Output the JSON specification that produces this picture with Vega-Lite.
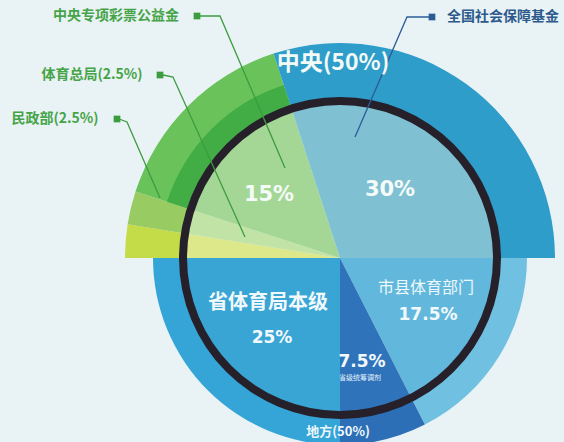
{
  "$schema": "https://vega.github.io/schema/vega-lite/v6.json",
  "width": 564,
  "height": 442,
  "autosize": {"type": "none"},
  "padding": 0,
  "background": "#e9f2f5",
  "config": {"view": {"stroke": null}},
  "datasets": {
    "seg": [
      {"i": 1, "name": "民政部", "v": 2.5, "half": "中央"},
      {"i": 2, "name": "体育总局", "v": 2.5, "half": "中央"},
      {"i": 3, "name": "中央专项彩票公益金", "v": 15, "half": "中央"},
      {"i": 4, "name": "全国社会保障基金", "v": 30, "half": "中央"},
      {"i": 5, "name": "市县体育部门", "v": 17.5, "half": "地方"},
      {"i": 6, "name": "省级调剂", "v": 7.5, "half": "地方"},
      {"i": 7, "name": "省体育局本级", "v": 25, "half": "地方"}
    ],
    "lines": [
      {"id": "g1", "c": "green", "s": 0, "x": -140, "y": 242},
      {"id": "g1", "c": "green", "s": 1, "x": -120, "y": 242},
      {"id": "g1", "c": "green", "s": 2, "x": -55, "y": 90},
      {"id": "g2", "c": "green", "s": 0, "x": -177, "y": 183},
      {"id": "g2", "c": "green", "s": 1, "x": -167, "y": 181},
      {"id": "g2", "c": "green", "s": 2, "x": -95, "y": 21},
      {"id": "g3", "c": "green", "s": 0, "x": -221, "y": 139},
      {"id": "g3", "c": "green", "s": 1, "x": -213, "y": 136},
      {"id": "g3", "c": "green", "s": 2, "x": -180, "y": 60},
      {"id": "b1", "c": "blue", "s": 0, "x": 90, "y": 241},
      {"id": "b1", "c": "blue", "s": 1, "x": 67, "y": 241},
      {"id": "b1", "c": "blue", "s": 2, "x": 15, "y": 121}
    ],
    "squares": [
      {"c": "green", "x": -143, "y": 242},
      {"c": "green", "x": -180, "y": 183},
      {"c": "green", "x": -223, "y": 139},
      {"c": "blue", "x": 92, "y": 241}
    ],
    "labels": [
      {"kind": "callg", "t": "中央专项彩票公益金", "x": -224, "y": 242},
      {"kind": "callg", "t": "体育总局(2.5%)", "x": -248, "y": 183},
      {"kind": "callg", "t": "民政部(2.5%)", "x": -285, "y": 139},
      {"kind": "callb", "t": "全国社会保障基金", "x": 163, "y": 241},
      {"kind": "big", "t": "中央(50%)", "x": -7, "y": 195},
      {"kind": "pct", "t": "15%", "x": -71, "y": 63},
      {"kind": "pct", "t": "30%", "x": 50, "y": 68},
      {"kind": "name", "t": "省体育局本级", "x": -72, "y": -45},
      {"kind": "pct2", "t": "25%", "x": -68, "y": -80},
      {"kind": "name2", "t": "市县体育部门", "x": 86, "y": -30},
      {"kind": "pct2", "t": "17.5%", "x": 88, "y": -57},
      {"kind": "pct2", "t": "7.5%", "x": 22, "y": -104},
      {"kind": "tiny", "t": "省级统筹调剂", "x": 20, "y": -120},
      {"kind": "foot", "t": "地方(50%)", "x": -2, "y": -174}
    ]
  },
  "layer": [
    {
      "data": {"name": "seg"},
      "transform": [
        {"stack": "v", "groupby": [], "sort": [{"field": "i", "order": "ascending"}], "as": ["t0", "t1"]},
        {"filter": "datum.half == '中央'"}
      ],
      "mark": {"type": "arc", "radius": 215, "radius2": 157},
      "encoding": {
        "x": {"datum": 0, "type": "quantitative", "scale": {"domain": [-340, 224], "nice": false, "zero": false}, "axis": null},
        "y": {"datum": 0, "type": "quantitative", "scale": {"domain": [-184, 258], "nice": false, "zero": false}, "axis": null},
        "theta": {"field": "t0", "type": "quantitative", "scale": {"domain": [0, 100], "range": [4.712389, 10.995574]}},
        "theta2": {"field": "t1"},
        "color": {"field": "name", "type": "nominal", "legend": null,
          "scale": {"domain": ["民政部", "体育总局", "中央专项彩票公益金", "全国社会保障基金"], "range": ["#c3dc48", "#98cc62", "#6ac25a", "#2e9dca"]}}
      }
    },
    {
      "data": {"name": "seg"},
      "transform": [
        {"stack": "v", "groupby": [], "sort": [{"field": "i", "order": "ascending"}], "as": ["t0", "t1"]},
        {"filter": "datum.half == '地方'"}
      ],
      "mark": {"type": "arc", "radius": 187, "radius2": 157},
      "encoding": {
        "x": {"datum": 0, "type": "quantitative"},
        "y": {"datum": 0, "type": "quantitative"},
        "theta": {"field": "t0", "type": "quantitative"},
        "theta2": {"field": "t1"},
        "color": {"field": "name", "type": "nominal", "legend": null,
          "scale": {"domain": ["市县体育部门", "省级调剂", "省体育局本级"], "range": ["#70c0e2", "#2c6fb6", "#35a4d6"]}}
      }
    },
    {
      "data": {"name": "seg"},
      "transform": [
        {"stack": "v", "groupby": [], "sort": [{"field": "i", "order": "ascending"}], "as": ["t0", "t1"]},
        {"filter": "datum.i == 3"}
      ],
      "mark": {"type": "arc", "radius": 182, "radius2": 157, "color": "#42ad45"},
      "encoding": {
        "x": {"datum": 0, "type": "quantitative"},
        "y": {"datum": 0, "type": "quantitative"},
        "theta": {"field": "t0", "type": "quantitative"},
        "theta2": {"field": "t1"}
      }
    },
    {
      "data": {"name": "seg"},
      "transform": [
        {"stack": "v", "groupby": [], "sort": [{"field": "i", "order": "ascending"}], "as": ["t0", "t1"]}
      ],
      "mark": {"type": "arc", "radius": 157, "radius2": 0},
      "encoding": {
        "x": {"datum": 0, "type": "quantitative"},
        "y": {"datum": 0, "type": "quantitative"},
        "theta": {"field": "t0", "type": "quantitative"},
        "theta2": {"field": "t1"},
        "color": {"field": "name", "type": "nominal", "legend": null,
          "scale": {"domain": ["民政部", "体育总局", "中央专项彩票公益金", "全国社会保障基金", "市县体育部门", "省级调剂", "省体育局本级"],
                    "range": ["#dde88a", "#c2e3a6", "#a4d795", "#7fc1d3", "#62b8dc", "#2f74bb", "#39a5d5"]}}
      }
    },
    {
      "data": {"values": [{"r": 1}]},
      "mark": {"type": "arc", "radius": 161, "radius2": 153, "theta": 0, "theta2": 6.2832, "color": "#26202a"},
      "encoding": {
        "x": {"datum": 0, "type": "quantitative"},
        "y": {"datum": 0, "type": "quantitative"}
      }
    },
    {
      "data": {"name": "lines"},
      "mark": {"type": "line", "strokeWidth": 1.3},
      "encoding": {
        "x": {"field": "x", "type": "quantitative"},
        "y": {"field": "y", "type": "quantitative"},
        "detail": {"field": "id"},
        "order": {"field": "s"},
        "color": {"field": "c", "type": "nominal", "legend": null,
          "scale": {"domain": ["green", "blue"], "range": ["#3c9c40", "#2c5c96"]}}
      }
    },
    {
      "data": {"name": "squares"},
      "mark": {"type": "square", "size": 45, "filled": true, "opacity": 1},
      "encoding": {
        "x": {"field": "x", "type": "quantitative"},
        "y": {"field": "y", "type": "quantitative"},
        "color": {"field": "c", "type": "nominal", "legend": null,
          "scale": {"domain": ["green", "blue"], "range": ["#3c9c40", "#2c5c96"]}}
      }
    },
    {
      "data": {"name": "labels"},
      "transform": [{"filter": "datum.kind == 'callg'"}],
      "mark": {"type": "text", "font": "Noto Sans CJK SC", "fontWeight": "bold", "fontSize": 14, "color": "#45a447"},
      "encoding": {"x": {"field": "x", "type": "quantitative"}, "y": {"field": "y", "type": "quantitative"}, "text": {"field": "t"}}
    },
    {
      "data": {"name": "labels"},
      "transform": [{"filter": "datum.kind == 'callb'"}],
      "mark": {"type": "text", "font": "Noto Sans CJK SC", "fontWeight": "bold", "fontSize": 14, "color": "#2c5a8c"},
      "encoding": {"x": {"field": "x", "type": "quantitative"}, "y": {"field": "y", "type": "quantitative"}, "text": {"field": "t"}}
    },
    {
      "data": {"name": "labels"},
      "transform": [{"filter": "datum.kind == 'big'"}],
      "mark": {"type": "text", "font": "Noto Sans CJK SC", "fontWeight": "bold", "fontSize": 23, "color": "#f2faf6"},
      "encoding": {"x": {"field": "x", "type": "quantitative"}, "y": {"field": "y", "type": "quantitative"}, "text": {"field": "t"}}
    },
    {
      "data": {"name": "labels"},
      "transform": [{"filter": "datum.kind == 'pct'"}],
      "mark": {"type": "text", "font": "DejaVu Sans", "fontWeight": "bold", "fontSize": 21, "color": "#f4fbf8"},
      "encoding": {"x": {"field": "x", "type": "quantitative"}, "y": {"field": "y", "type": "quantitative"}, "text": {"field": "t"}}
    },
    {
      "data": {"name": "labels"},
      "transform": [{"filter": "datum.kind == 'name'"}],
      "mark": {"type": "text", "font": "Noto Sans CJK SC", "fontWeight": "bold", "fontSize": 20, "color": "#f2f9fc"},
      "encoding": {"x": {"field": "x", "type": "quantitative"}, "y": {"field": "y", "type": "quantitative"}, "text": {"field": "t"}}
    },
    {
      "data": {"name": "labels"},
      "transform": [{"filter": "datum.kind == 'name2'"}],
      "mark": {"type": "text", "font": "Noto Sans CJK SC", "fontSize": 16, "color": "#eef8fc"},
      "encoding": {"x": {"field": "x", "type": "quantitative"}, "y": {"field": "y", "type": "quantitative"}, "text": {"field": "t"}}
    },
    {
      "data": {"name": "labels"},
      "transform": [{"filter": "datum.kind == 'pct2'"}],
      "mark": {"type": "text", "font": "DejaVu Sans", "fontWeight": "bold", "fontSize": 17, "color": "#f2f9fc"},
      "encoding": {"x": {"field": "x", "type": "quantitative"}, "y": {"field": "y", "type": "quantitative"}, "text": {"field": "t"}}
    },
    {
      "data": {"name": "labels"},
      "transform": [{"filter": "datum.kind == 'tiny'"}],
      "mark": {"type": "text", "font": "Noto Sans CJK SC", "fontSize": 7, "color": "#e6f2fb"},
      "encoding": {"x": {"field": "x", "type": "quantitative"}, "y": {"field": "y", "type": "quantitative"}, "text": {"field": "t"}}
    },
    {
      "data": {"name": "labels"},
      "transform": [{"filter": "datum.kind == 'foot'"}],
      "mark": {"type": "text", "font": "Noto Sans CJK SC", "fontWeight": "bold", "fontSize": 13, "color": "#eef8fc"},
      "encoding": {"x": {"field": "x", "type": "quantitative"}, "y": {"field": "y", "type": "quantitative"}, "text": {"field": "t"}}
    }
  ],
  "resolve": {"scale": {"color": "independent"}}
}
